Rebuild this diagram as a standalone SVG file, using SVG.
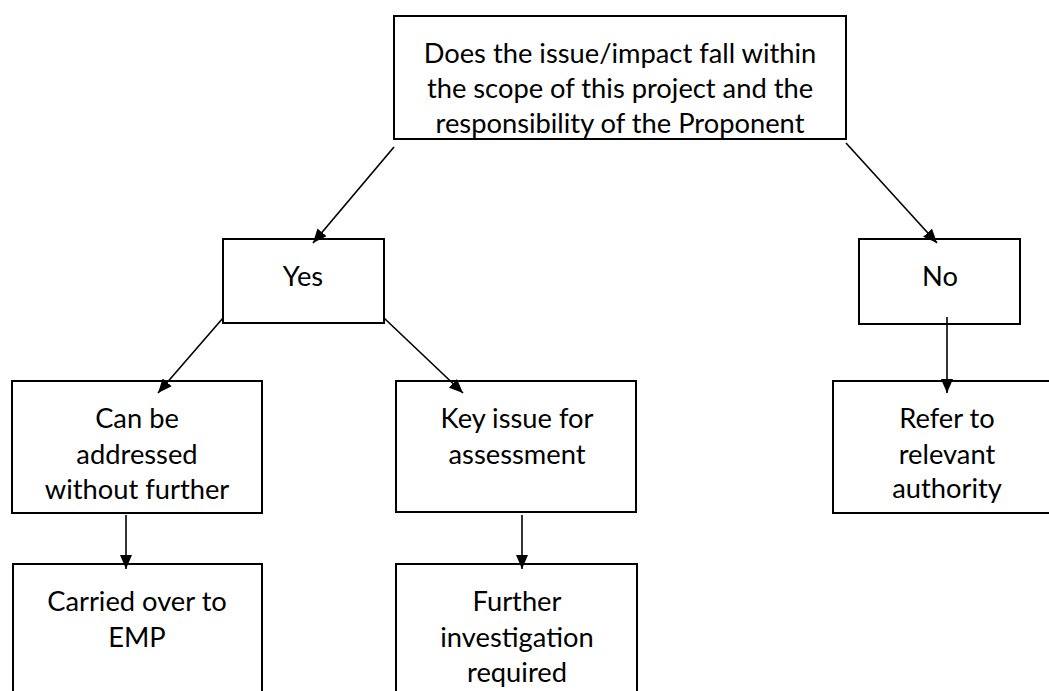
<svg xmlns="http://www.w3.org/2000/svg" width="1049" height="691" viewBox="0 0 1049 691">
<style>
.box{fill:#fff;stroke:#000;stroke-width:2}
.t{font-family:Lato,"Liberation Sans",sans-serif;font-size:27.3px;fill:#000;text-anchor:middle}
.c{stroke:#000;stroke-width:1.6;fill:none;marker-end:url(#ah)}
</style>
<defs>
<marker id="ah" markerWidth="14" markerHeight="12" refX="14" refY="6" orient="auto" markerUnits="userSpaceOnUse">
<path d="M0,0 L14,6 L0,12 Z" fill="#000"/>
</marker>
</defs>
<rect width="1049" height="691" fill="#fff"/>
<g id="n-question">
<rect class="box" x="394" y="16" width="452" height="123"/>
<text class="t" x="620" y="63">Does the issue/impact fall within</text>
<text class="t" x="620" y="98">the scope of this project and the</text>
<text class="t" x="620" y="133">responsibility of the Proponent</text>
</g>
<g id="n-yes">
<rect class="box" x="223" y="239" width="161" height="84"/>
<text class="t" x="303" y="286">Yes</text>
</g>
<g id="n-no">
<rect class="box" x="859" y="239" width="161" height="85"/>
<text class="t" x="940" y="286">No</text>
</g>
<g id="n-canbe">
<rect class="box" x="12" y="381" width="250" height="132"/>
<text class="t" x="137" y="428">Can be</text>
<text class="t" x="137" y="464">addressed</text>
<text class="t" x="137" y="499">without further</text>
</g>
<g id="n-key">
<rect class="box" x="396" y="381" width="240" height="131"/>
<text class="t" x="517" y="428">Key issue for</text>
<text class="t" x="517" y="464">assessment</text>
</g>
<g id="n-refer">
<rect class="box" x="833" y="381" width="240" height="132"/>
<text class="t" x="947" y="428">Refer to</text>
<text class="t" x="947" y="464">relevant</text>
<text class="t" x="947" y="498">authority</text>
</g>
<g id="n-carried">
<rect class="box" x="13" y="564" width="249" height="140"/>
<text class="t" x="137" y="611">Carried over to</text>
<text class="t" x="137" y="647">EMP</text>
</g>
<g id="n-further">
<rect class="box" x="396" y="564" width="241" height="140"/>
<text class="t" x="517" y="611">Further</text>
<text class="t" x="517" y="647">investigation</text>
<text class="t" x="517" y="682">required</text>
</g>
<g id="connectors">
<line class="c" x1="394" y1="147" x2="313" y2="243"/>
<line class="c" x1="846" y1="143" x2="937" y2="243"/>
<line class="c" x1="223" y1="318" x2="158" y2="393"/>
<line class="c" x1="384" y1="318" x2="463" y2="393"/>
<line class="c" x1="947" y1="317" x2="947" y2="393"/>
<line class="c" x1="126" y1="515" x2="126" y2="569"/>
<line class="c" x1="522" y1="515" x2="522" y2="569"/>
</g>
</svg>
